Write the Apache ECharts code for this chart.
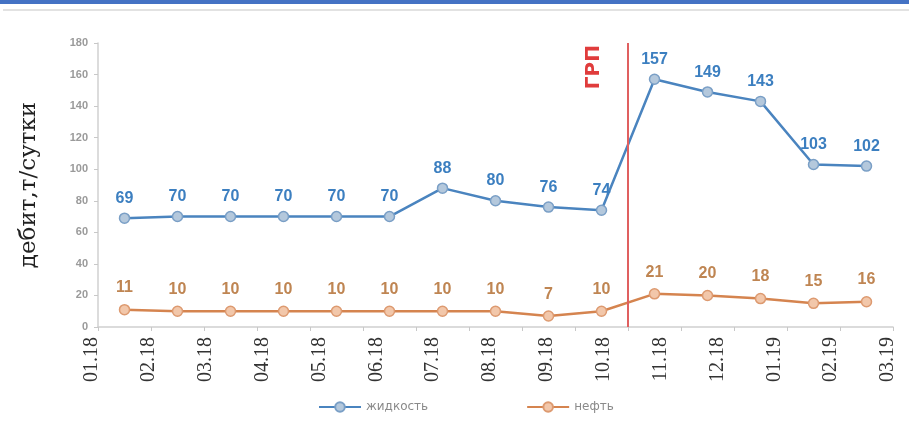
<!DOCTYPE html>
<html>
<head>
<meta charset="utf-8">
<script src="https://cdn.jsdelivr.net/npm/echarts@6/dist/echarts.min.js"></script>
<style>
  html, body { margin: 0; padding: 0; background: #fff; }
  #chart { width: 909px; height: 422px; }
</style>
</head>
<body>
<div id="chart"></div>
<script>
// Monthly well output before and after hydraulic fracturing (ГРП)
const months = ['01.18', '02.18', '03.18', '04.18', '05.18', '06.18', '07.18', '08.18',
                '09.18', '10.18', '11.18', '12.18', '01.19', '02.19', '03.19'];
const liquid = [69, 70, 70, 70, 70, 70, 88, 80, 76, 74, 157, 149, 143, 103, 102];
const oil = [11, 10, 10, 10, 10, 10, 10, 10, 7, 10, 21, 20, 18, 15, 16];
const yTicks = { min: 0, max: 180, step: 20 };
const fracMonthIndex = 10; // fracturing done at the start of 11.18
const seriesNames = ['жидкость', 'нефть'];

const chart = echarts.init(document.getElementById('chart'));

const blue = '#4a84bf';
const orange = '#d5844f';

chart.setOption({
  animation: false,
  backgroundColor: '#fff',
  graphic: [
    { type: 'rect', shape: { x: 0, y: 0, width: 909, height: 4 }, style: { fill: '#4472c4' } },
    { type: 'rect', shape: { x: 3, y: 9, width: 906, height: 2 }, style: { fill: '#e2e2e2' } }
  ],
  grid: [
    { left: 98, right: 16, top: 43, bottom: 95 },
    { left: 92, right: 21, top: 43, bottom: 95 }
  ],
  legend: {
    bottom: 4,
    left: 313,
    itemGap: 98,
    itemWidth: 42,
    itemHeight: 12,
    textStyle: { color: '#8a8a8a', fontSize: 12, fontFamily: 'DejaVu Sans' },
    data: seriesNames
  },
  xAxis: [
    {
      type: 'category',
      gridIndex: 0,
      data: months,
      boundaryGap: true,
      axisLine: { lineStyle: { color: '#d0d0d0', width: 1.5 } },
      axisTick: { show: true, length: 4, lineStyle: { color: '#c8c8c8' } },
      axisLabel: { show: false }
    },
    {
      type: 'category',
      gridIndex: 1,
      data: months,
      boundaryGap: false,
      axisLine: { show: false },
      axisTick: { show: false },
      axisLabel: {
        rotate: 90,
        margin: 10,
        color: '#333',
        fontSize: 20,
        fontFamily: 'Liberation Serif'
      }
    },
    {
      type: 'value',
      gridIndex: 0,
      min: 0,
      max: months.length,
      show: false
    }
  ],
  yAxis: [
    {
      type: 'value',
      gridIndex: 0,
      min: yTicks.min,
      max: yTicks.max,
      interval: yTicks.step,
      name: 'дебит,т/сутки',
      nameLocation: 'middle',
      nameGap: 57,
      nameTextStyle: { color: '#222', fontSize: 23, fontFamily: 'DejaVu Serif' },
      axisLine: { show: true, lineStyle: { color: '#d0d0d0', width: 1.5 } },
      axisTick: { show: true, length: 4, lineStyle: { color: '#c8c8c8' } },
      axisLabel: { color: '#9a9a9a', fontSize: 11, fontWeight: 'bold', margin: 10, fontFamily: 'Liberation Sans' },
      splitLine: { show: false }
    },
    {
      type: 'value',
      gridIndex: 1,
      min: yTicks.min,
      max: yTicks.max,
      show: false
    }
  ],
  series: [
    {
      name: seriesNames[0],
      type: 'line',
      xAxisIndex: 0,
      yAxisIndex: 0,
      data: liquid,
      symbol: 'circle',
      symbolSize: 10,
      lineStyle: { color: blue, width: 2.5 },
      itemStyle: { color: '#b4c8dc', borderColor: '#7a9fc6', borderWidth: 1.5 },
      label: {
        show: true,
        position: 'top',
        distance: 6,
        color: '#3c7fc0',
        fontSize: 16,
        fontWeight: 'bold',
        fontFamily: 'Liberation Sans'
      },
      z: 3
    },
    {
      name: seriesNames[1],
      type: 'line',
      xAxisIndex: 0,
      yAxisIndex: 0,
      data: oil,
      symbol: 'circle',
      symbolSize: 10,
      lineStyle: { color: orange, width: 2.5 },
      itemStyle: { color: '#f2c7aa', borderColor: '#dd9a70', borderWidth: 1.5 },
      label: {
        show: true,
        position: 'top',
        distance: 8,
        color: '#bf8552',
        fontSize: 16,
        fontWeight: 'bold',
        fontFamily: 'Liberation Sans'
      },
      z: 3
    },
    {
      name: 'ГРП',
      type: 'line',
      xAxisIndex: 2,
      yAxisIndex: 0,
      data: [],
      markLine: {
        symbol: 'none',
        silent: true,
        lineStyle: { color: '#e06060', width: 2, type: 'solid' },
        label: {
          show: true,
          formatter: 'ГРП',
          position: 'insideEndTop',
          distance: [2, 24],
          color: '#e03c3c',
          fontSize: 20,
          fontWeight: 'bold',
          fontFamily: 'DejaVu Sans'
        },
        data: [{ xAxis: fracMonthIndex }]
      },
      z: 2
    }
  ]
});
</script>
</body>
</html>
